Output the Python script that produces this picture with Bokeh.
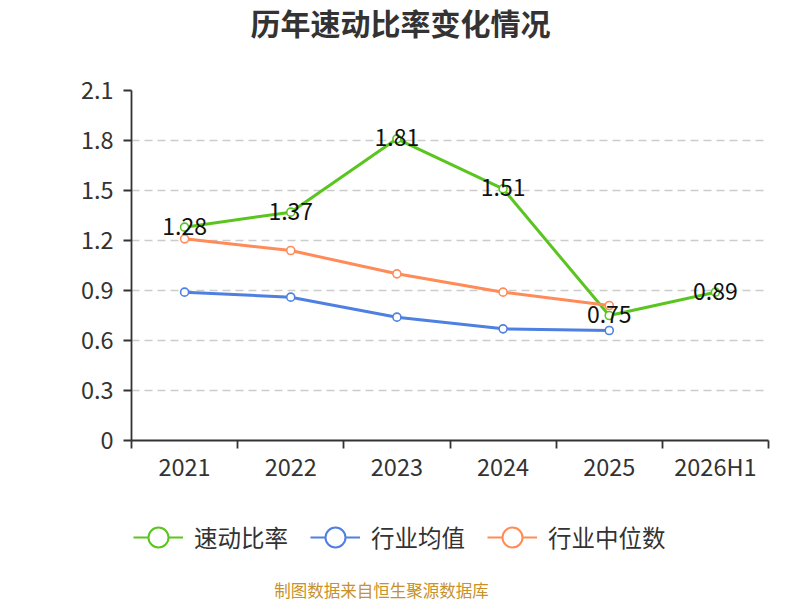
from bokeh.plotting import figure
from bokeh.layouts import column
from bokeh.models import (FixedTicker, Legend, LegendItem, ColumnDataSource, Range1d,
                          Label, CustomJSTickFormatter)
from bokeh.embed import file_html
from bokeh.resources import INLINE
from bokeh.core.properties import value

categories = ["2021", "2022", "2023", "2024", "2025", "2026H1"]
quick_ratio = [1.28, 1.37, 1.81, 1.51, 0.75, 0.89]
industry_mean = [0.89, 0.86, 0.74, 0.67, 0.66]
industry_median = [1.21, 1.14, 1.00, 0.89, 0.81]
y_ticks = [0, 0.3, 0.6, 0.9, 1.2, 1.5, 1.8, 2.1]
series_names = ["速动比率", "行业均值", "行业中位数"]
title_text = "历年速动比率变化情况"
source_text = "制图数据来自恒生聚源数据库"

GREEN = "#5ac51f"
BLUE = "#4e80e2"
ORANGE = "#ff8b58"
FONT = "Noto Sans CJK SC"
AXIS_C = "#333333"

W = 800
H0, H1, H2 = 60, 427, 113
FL, FR = 131, 768          # frame left / right (shared by all strips)


def blank_strip(height, y_top, y_bottom):
    f = figure(width=W, height=height, output_backend="svg", toolbar_location=None,
               x_range=Range1d(FL, FR), y_range=Range1d(y_bottom, y_top),
               min_border_left=FL, min_border_right=W - FR, min_border_top=0, min_border_bottom=0)
    f.axis.visible = False
    f.grid.grid_line_color = None
    f.outline_line_color = None
    return f

# header strip with the title (y measured downward, in pixels)
p0 = blank_strip(H0, 0, H0)
p0.add_layout(Label(x=400, y=21, text=title_text, text_font=FONT, text_font_size="30px",
                    text_font_style="bold", text_color="#333333", text_align="center",
                    text_baseline="middle"))

# main chart
p = figure(width=W, height=H1, output_backend="svg", toolbar_location=None,
           x_range=Range1d(-0.5, len(categories) - 0.5), y_range=Range1d(0, 2.1),
           min_border_left=FL, min_border_right=W - FR, min_border_top=30, min_border_bottom=47)
p.outline_line_color = None

xs_all = list(range(len(categories)))
p.xaxis.ticker = FixedTicker(ticks=xs_all, minor_ticks=[i - 0.5 for i in range(len(categories) + 1)])
p.xaxis.major_label_overrides = {i: c for i, c in enumerate(categories)}
p.xaxis.major_tick_line_color = None
p.xaxis.minor_tick_line_color = AXIS_C
p.xaxis.minor_tick_line_width = 1.8
p.xaxis.minor_tick_in = 0
p.xaxis.minor_tick_out = 8
p.xaxis.axis_line_color = AXIS_C
p.xaxis.axis_line_width = 1.8
p.xaxis.major_label_text_font = FONT
p.xaxis.major_label_text_font_size = "23.5px"
p.xaxis.major_label_text_color = AXIS_C
p.xaxis.major_label_standoff = 0

p.yaxis.ticker = FixedTicker(ticks=y_ticks)
p.yaxis.formatter = CustomJSTickFormatter(code="return tick == 0 ? '0' : tick.toFixed(1);")
p.yaxis.minor_tick_line_color = None
p.yaxis.major_tick_in = 0
p.yaxis.major_tick_out = 8
p.yaxis.major_tick_line_color = AXIS_C
p.yaxis.major_tick_line_width = 1.8
p.yaxis.axis_line_color = AXIS_C
p.yaxis.axis_line_width = 1.8
p.yaxis.major_label_text_font = FONT
p.yaxis.major_label_text_font_size = "23.5px"
p.yaxis.major_label_text_color = AXIS_C
p.yaxis.major_label_standoff = 10

p.xgrid.grid_line_color = None
p.ygrid.ticker = FixedTicker(ticks=y_ticks[1:])
p.ygrid.grid_line_color = "#cccccc"
p.ygrid.grid_line_dash = "8 5"
p.ygrid.grid_line_width = 1.5

# legend / source strip (y measured downward, in page pixels)
p2 = blank_strip(H2, H0 + H1, H0 + H1 + H2)

items = []
def add_series(vals, color, name):
    src = ColumnDataSource(dict(x=xs_all[:len(vals)], y=vals))
    p.line("x", "y", source=src, line_color=color, line_width=3)
    p.scatter("x", "y", source=src, marker="circle", size=8, fill_color="white",
              line_color=color, line_width=1.6)
    # hidden renderers that only provide the legend symbols
    lr = p2.line("x", "y", source=src, line_color=color, line_width=2, visible=False)
    sr = p2.scatter("x", "y", source=src, marker="circle", size=22, fill_color="white",
                    line_color=color, line_width=2, visible=False)
    items.append(LegendItem(label=name, renderers=[lr, sr]))
    return src

gsrc = add_series(quick_ratio, GREEN, series_names[0])
add_series(industry_mean, BLUE, series_names[1])
add_series(industry_median, ORANGE, series_names[2])
gsrc.data["label"] = [f"{v:.2f}" for v in quick_ratio]
p.text("x", "y", text="label", source=gsrc, text_font=value(FONT), text_font_size="23px",
       text_color="#111111", text_align="center", text_baseline="middle", y_offset=-1)

legend = Legend(items=items, orientation="horizontal", location=(2, 38),
                label_text_font=FONT, label_text_font_size="23.5px", label_text_color="#333333",
                glyph_width=50, glyph_height=50, label_height=24, label_standoff=11, spacing=22,
                border_line_color=None, background_fill_alpha=0, margin=0, padding=0,
                inactive_fill_alpha=0, click_policy="none")
p2.add_layout(legend)

p2.add_layout(Label(x=381, y=589, text=source_text, text_font=FONT, text_font_size="16.5px",
                    text_color="#c8912a", text_align="center", text_baseline="middle"))

layout = column(p0, p, p2, spacing=0)
open("out.html", "w").write(file_html(layout, INLINE))
